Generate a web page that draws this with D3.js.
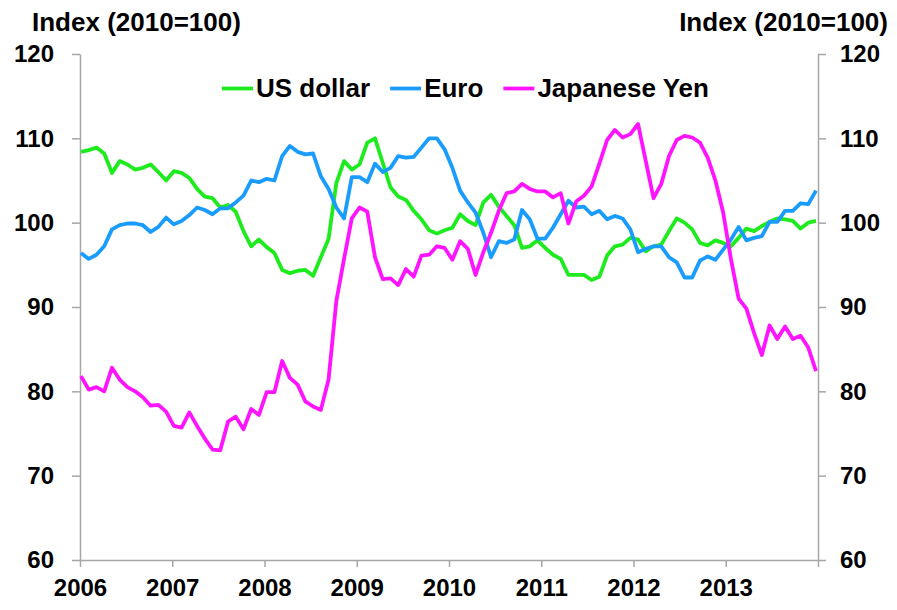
<!DOCTYPE html>
<html>
<head>
<meta charset="utf-8">
<script src="https://cdn.jsdelivr.net/npm/d3@7"></script>
<style>
  html, body { margin: 0; padding: 0; background: #fff; }
  svg text { font-family: "Liberation Sans", Arial, sans-serif; font-weight: bold; fill: #000; }
</style>
</head>
<body>
<svg id="chart" width="897" height="610"></svg>
<script>
// ---- Data (monthly, Jan 2006 – Dec 2013) ----
const years = [2006, 2007, 2008, 2009, 2010, 2011, 2012, 2013];
const yTicks = [60, 70, 80, 90, 100, 110, 120];
const seriesNames = ["US dollar", "Euro", "Japanese Yen"];
const seriesColors = ["#1EEB1E", "#1A9CFF", "#FF14FF"];

const usDollar = [108.4,108.6,108.9,108.2,105.9,107.3,106.9,106.3,106.5,106.9,106.0,105.0,
  106.1,105.9,105.3,104.0,103.1,102.9,101.8,102.1,101.3,99.0,97.2,98.0,
  97.1,96.4,94.4,94.0,94.3,94.4,93.7,95.9,98.1,104.7,107.3,106.3,
  106.9,109.5,110.0,107.1,104.2,103.1,102.7,101.4,100.4,99.1,98.7,99.1,
  99.4,101.0,100.2,99.7,102.4,103.3,101.9,100.8,99.7,97.0,97.2,97.9,
  97.0,96.2,95.7,93.8,93.8,93.8,93.2,93.6,96.1,97.2,97.4,98.2,
  98.0,96.6,97.2,97.4,99.0,100.5,100.0,99.2,97.6,97.3,97.9,97.6,
  97.2,98.2,99.3,99.0,99.6,100.1,100.5,100.4,100.2,99.3,100.0,100.2];

const euro = [96.4,95.7,96.2,97.2,99.2,99.7,99.9,99.9,99.7,98.9,99.5,100.6,
  99.8,100.2,100.9,101.8,101.5,101.0,101.7,101.7,102.4,103.2,105.0,104.8,
  105.2,105.0,107.9,109.1,108.4,108.1,108.2,105.5,104.0,101.8,100.5,105.4,
  105.4,104.8,107.0,106.0,106.5,107.9,107.7,107.8,108.9,110.0,110.0,108.7,
  106.5,103.8,102.4,101.2,98.8,95.9,97.8,97.6,98.0,101.5,100.4,98.1,
  98.1,99.4,101.0,102.6,101.8,101.9,101.0,101.4,100.4,100.8,100.5,99.2,
  96.5,96.9,97.2,97.2,95.9,95.3,93.5,93.5,95.5,96.0,95.6,96.8,
  98.0,99.5,97.9,98.2,98.4,100.1,100.1,101.4,101.4,102.3,102.2,103.8];

const yen = [81.8,80.2,80.5,80.0,82.8,81.4,80.5,80.0,79.3,78.3,78.4,77.6,
  75.9,75.7,77.5,75.9,74.4,73.1,73.0,76.4,77.0,75.5,77.9,77.2,
  79.9,79.9,83.6,81.6,80.8,78.8,78.2,77.8,81.4,90.7,95.7,100.5,
  101.8,101.3,95.9,93.3,93.4,92.6,94.5,93.6,96.1,96.2,97.2,97.0,
  95.6,97.8,96.9,93.8,96.5,98.8,101.4,103.5,103.7,104.6,104.0,103.7,
  103.7,103.0,103.5,99.9,102.5,103.2,104.3,107.0,109.8,111.0,110.1,110.5,
  111.7,107.3,102.9,104.6,107.9,109.8,110.3,110.1,109.5,107.7,105.0,101.2,
  95.7,91.0,89.8,86.9,84.3,87.8,86.2,87.7,86.2,86.6,85.2,82.4];

const series = [usDollar, euro, yen];
const months = d3.range(usDollar.length);

// ---- Layout ----
const svg = d3.select("#chart");
const plotL = 80, plotR = 818, plotT = 54, plotB = 560;

const yScale = d3.scaleLinear().domain([60, 120]).range([plotB, plotT]);
const xYear = d3.scaleLinear().domain([2006, 2014]).range([plotL, plotR]);
const xMonth = d3.scaleLinear().domain([0, months.length - 1]).range([plotL + 1, plotR - 2]);

const axisColor = "#A6A6A6";

// Left axis
const gL = svg.append("g").attr("transform", `translate(${plotL},0)`)
  .call(d3.axisLeft(yScale).tickValues(yTicks).tickSize(8).tickPadding(18).tickSizeOuter(0));
// Right axis
const gR = svg.append("g").attr("transform", `translate(${plotR},0)`)
  .call(d3.axisRight(yScale).tickValues(yTicks).tickSize(8).tickPadding(14).tickSizeOuter(0));
// Bottom axis
const gB = svg.append("g").attr("transform", `translate(0,${plotB})`)
  .call(d3.axisBottom(xYear).tickValues(d3.range(2006, 2015)).tickSize(7).tickPadding(12)
    .tickSizeOuter(0).tickFormat(d => years.includes(d) ? String(d) : ""));

[gL, gR, gB].forEach(g => {
  g.selectAll("path.domain").attr("stroke", axisColor).attr("stroke-width", 1.5);
  g.selectAll(".tick line").attr("stroke", axisColor).attr("stroke-width", 1.5);
  g.selectAll(".tick text").attr("font-size", 24)
    .attr("font-family", '"Liberation Sans", Arial, sans-serif').attr("font-weight", "bold").attr("fill", "#000");
});
gB.selectAll(".tick text").attr("dy", "0.71em");

// Axis titles
svg.append("text").attr("x", 32).attr("y", 31).attr("font-size", 26).text("Index (2010=100)");
svg.append("text").attr("x", 888).attr("y", 31).attr("font-size", 26).attr("text-anchor", "end").text("Index (2010=100)");

// Lines
const line = d3.line().x((d, i) => xMonth(i)).y(d => yScale(d)).curve(d3.curveLinear);
series.forEach((s, k) => {
  svg.append("path").datum(s)
    .attr("fill", "none").attr("stroke", seriesColors[k])
    .attr("stroke-width", 3.8).attr("stroke-linejoin", "round").attr("stroke-linecap", "butt")
    .attr("d", line);
});

// Legend
const legend = svg.append("g");
let lx = 222;
const ly = 88.5;
seriesNames.forEach((name, k) => {
  legend.append("line").attr("x1", lx).attr("x2", lx + 31).attr("y1", ly).attr("y2", ly)
    .attr("stroke", seriesColors[k]).attr("stroke-width", 3.8);
  const t = legend.append("text").attr("x", lx + 34).attr("y", 97).attr("font-size", 26).text(name);
  lx = lx + 34 + t.node().getComputedTextLength() + 20;
});
</script>
</body>
</html>
